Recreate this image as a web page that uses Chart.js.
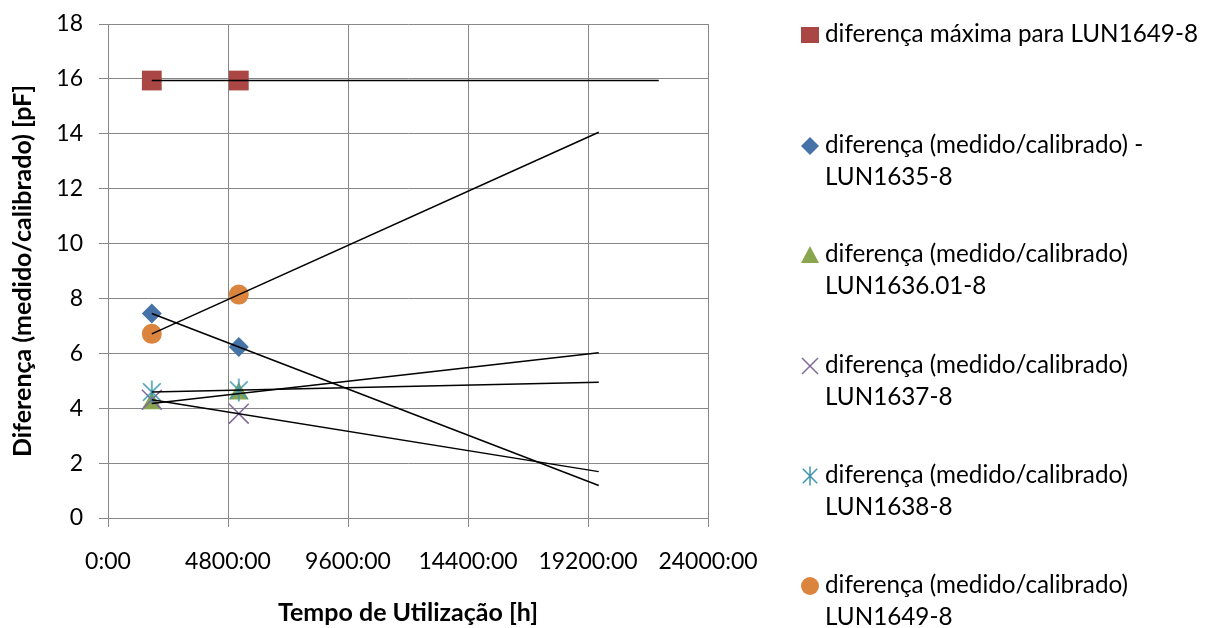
<!DOCTYPE html>
<html>
<head>
<meta charset="utf-8">
<script src="https://cdn.jsdelivr.net/npm/chart.js@4/dist/chart.umd.min.js"></script>
<style>
  html, body { margin: 0; padding: 0; background: #ffffff; }
  #wrap { width: 1209px; height: 628px; }
</style>
</head>
<body>
<div id="wrap"><canvas id="c" width="1209" height="628"></canvas></div>
<script>
// ---- data ----
const timeHours   = [1752, 5232];
const maxDiff1649 = [15.94, 15.94];
const diff1635    = [7.45, 6.23];
const diff1636    = [4.17, 4.53];
const diff1637    = [4.31, 3.80];
const diff1638    = [4.59, 4.66];
const diff1649    = [6.71, 8.14];
const trendEndHours = [22030, 19630, 19630, 19630, 19630, 19630];
const xTickValues = [0, 4800, 9600, 14400, 19200, 24000];
const yTickValues = [0, 2, 4, 6, 8, 10, 12, 14, 16, 18];
const seriesLabels = [
  ['diferença máxima para LUN1649-8'],
  ['diferença (medido/calibrado) -', 'LUN1635-8'],
  ['diferença (medido/calibrado)', 'LUN1636.01-8'],
  ['diferença (medido/calibrado)', 'LUN1637-8'],
  ['diferença (medido/calibrado)', 'LUN1638-8'],
  ['diferença (medido/calibrado)', 'LUN1649-8']
];
const xTitle = 'Tempo de Utilização [h]';
const yTitle = 'Diferença (medido/calibrado) [pF]';

// ---- styles ----
const FONT = 'Lato';
const seriesValues = [maxDiff1649, diff1635, diff1636, diff1637, diff1638, diff1649];
const colors = ['#AA4643', '#4572A7', '#89A54E', '#80699B', '#3D96AE', '#DB843D'];

function starCanvas(size, color) {
  const c = document.createElement('canvas');
  c.width = size; c.height = size;
  const g = c.getContext('2d');
  g.strokeStyle = color; g.lineWidth = 1.5;
  const m = size / 2, a = size / 2 - 2;
  g.beginPath();
  g.moveTo(m, m - a - 0.5); g.lineTo(m, m + a + 0.5);
  g.moveTo(m - a * 0.8, m - a * 0.8); g.lineTo(m + a * 0.8, m + a * 0.8);
  g.moveTo(m + a * 0.8, m - a * 0.8); g.lineTo(m - a * 0.8, m + a * 0.8);
  g.stroke();
  return c;
}
const starImg = starCanvas(26, colors[4]);
const pointStyles = ['rect', 'rectRot', 'triangle', 'crossRot', starImg, 'circle'];
const pointRadii  = [14, 10, 11.5, 14, 12, 10];

function toPoints(vals) { return timeHours.map((t, i) => ({ x: t, y: vals[i] })); }
function trend(vals, endX) {
  const n = timeHours.length;
  const mx = timeHours.reduce((a, b) => a + b, 0) / n;
  const my = vals.reduce((a, b) => a + b, 0) / n;
  let sxy = 0, sxx = 0;
  for (let i = 0; i < n; i++) { sxy += (timeHours[i] - mx) * (vals[i] - my); sxx += (timeHours[i] - mx) ** 2; }
  const b = sxy / sxx, a = my - b * mx;
  const x0 = timeHours[0];
  return [{ x: x0, y: a + b * x0 }, { x: endX, y: a + b * endX }];
}

const datasets = [];
seriesValues.forEach((vals, i) => {
  datasets.push({
    label: seriesLabels[i].join(' '),
    data: toPoints(vals),
    showLine: false,
    pointStyle: pointStyles[i],
    pointRadius: pointRadii[i],
    pointHoverRadius: pointRadii[i],
    backgroundColor: colors[i],
    borderColor: colors[i],
    pointBorderWidth: (i === 3) ? 1.5 : 0,
    order: 20 - i
  });
});
seriesValues.forEach((vals, i) => {
  datasets.push({
    label: 'trend ' + i,
    data: trend(vals, trendEndHours[i]),
    showLine: true,
    pointRadius: 0,
    borderColor: '#000000',
    borderWidth: 1.5,
    fill: false,
    order: 1
  });
});

function drawMarker(ctx, i, x, y) {
  ctx.save();
  ctx.fillStyle = colors[i]; ctx.strokeStyle = colors[i];
  if (i === 0) { ctx.fillRect(x - 9, y - 8, 18, 16); }
  else if (i === 1) { ctx.beginPath(); ctx.moveTo(x, y - 9); ctx.lineTo(x + 9, y); ctx.lineTo(x, y + 9); ctx.lineTo(x - 9, y); ctx.closePath(); ctx.fill(); }
  else if (i === 2) { ctx.beginPath(); ctx.moveTo(x, y - 9); ctx.lineTo(x + 9, y + 8); ctx.lineTo(x - 9, y + 8); ctx.closePath(); ctx.fill(); }
  else if (i === 3) { ctx.lineWidth = 1.5; ctx.beginPath(); ctx.moveTo(x - 8, y - 8); ctx.lineTo(x + 8, y + 8); ctx.moveTo(x + 8, y - 8); ctx.lineTo(x - 8, y + 8); ctx.stroke(); }
  else if (i === 4) { ctx.drawImage(starCanvas(22, colors[4]), x - 11, y - 11); }
  else { ctx.beginPath(); ctx.arc(x, y, 9, 0, Math.PI * 2); ctx.fill(); }
  ctx.restore();
}

const legendPlugin = {
  id: 'sideLegend',
  afterDraw(chart) {
    const ctx = chart.ctx;
    ctx.save();
    ctx.font = '22px ' + FONT;
    const w = ctx.measureText(seriesLabels[0][0]).width;
    const fs = 22 * 373 / w;
    ctx.font = fs.toFixed(2) + 'px ' + FONT;
    ctx.fillStyle = '#000000';
    ctx.textBaseline = 'middle';
    ctx.textAlign = 'left';
    const rowY = [34, 145, 254, 365, 475, 585];
    seriesLabels.forEach((lines, i) => {
      drawMarker(ctx, i, 810, rowY[i] + 1);
      lines.forEach((t, k) => ctx.fillText(t, 825, rowY[i] + k * 32));
    });
    ctx.restore();
  }
};

new Chart(document.getElementById('c'), {
  type: 'scatter',
  data: { datasets },
  options: {
    responsive: false,
    devicePixelRatio: 1,
    animation: false,
    layout: { padding: { top: 24, right: 501, left: 0, bottom: 0 } },
    plugins: { legend: { display: false }, tooltip: { enabled: false } },
    scales: {
      x: {
        type: 'linear',
        min: 0, max: 24000,
        afterBuildTicks(s) { s.ticks = xTickValues.map(v => ({ value: v })); },
        afterFit(s) { s.height = 110; },
        grid: { color: '#878787', lineWidth: 1, drawTicks: true, tickLength: 9, tickColor: '#878787' },
        border: { display: true, color: '#878787' },
        ticks: {
          autoSkip: false, maxRotation: 0, padding: 21, color: '#000000',
          font: { family: FONT, size: 23 },
          callback: v => v + ':00'
        },
        title: { display: true, text: xTitle, color: '#000000', font: { family: FONT, size: 25, weight: 'bold' }, padding: { top: 0, bottom: 0 } }
      },
      y: {
        type: 'linear',
        min: 0, max: 18,
        afterBuildTicks(s) { s.ticks = yTickValues.map(v => ({ value: v })); },
        afterFit(s) { s.width = 108; s.paddingTop = 0; s.paddingBottom = 0; },
        grid: { color: '#878787', lineWidth: 1, drawTicks: true, tickLength: 9, tickColor: '#878787' },
        border: { display: true, color: '#878787' },
        ticks: { padding: 16, color: '#000000', font: { family: FONT, size: 23 } },
        title: { display: true, text: yTitle, color: '#000000', font: { family: FONT, size: 25, weight: 'bold' }, padding: { top: 8, bottom: 0 } }
      }
    }
  },
  plugins: [legendPlugin]
});
</script>
</body>
</html>
